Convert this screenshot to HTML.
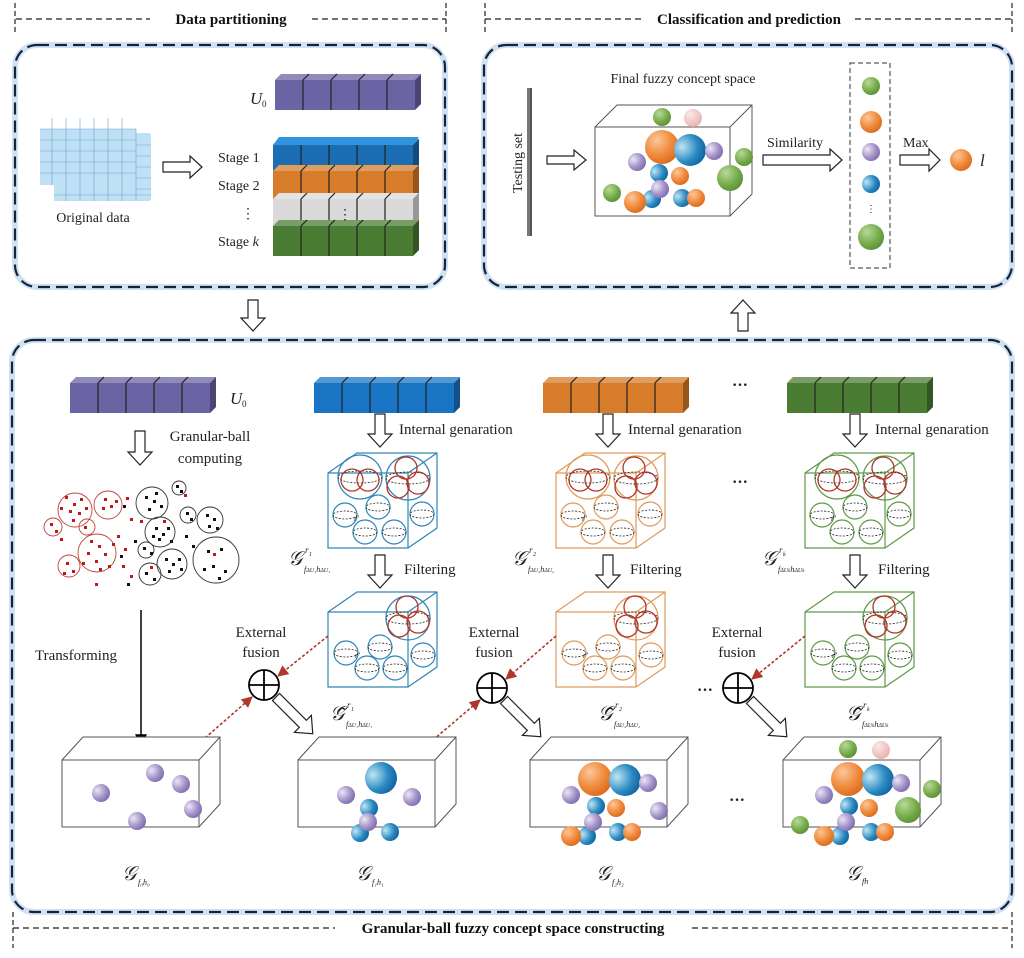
<!DOCTYPE html>
<html><head><meta charset="utf-8"><style>
html,body{margin:0;padding:0;background:#fff;}
svg{display:block;font-family:"Liberation Serif",serif;}
</style></head><body>
<svg width="1024" height="958" viewBox="0 0 1024 958" xmlns="http://www.w3.org/2000/svg">
<defs>
<radialGradient id="gO" cx="35%" cy="30%" r="75%"><stop offset="0" stop-color="#fbc79a"/><stop offset="0.6" stop-color="#f0893a"/><stop offset="1" stop-color="#d86a20"/></radialGradient>
<radialGradient id="gB" cx="25%" cy="40%" r="80%"><stop offset="0" stop-color="#bfe6f5"/><stop offset="0.6" stop-color="#2b8ac2"/><stop offset="1" stop-color="#0d5e9c"/></radialGradient>
<radialGradient id="gP" cx="30%" cy="35%" r="75%"><stop offset="0" stop-color="#ece6f5"/><stop offset="0.6" stop-color="#a393c8"/><stop offset="1" stop-color="#7c6aab"/></radialGradient>
<radialGradient id="gG" cx="35%" cy="30%" r="75%"><stop offset="0" stop-color="#b8d99a"/><stop offset="0.6" stop-color="#78ad4c"/><stop offset="1" stop-color="#5a8f36"/></radialGradient>
<radialGradient id="gK" cx="35%" cy="30%" r="75%"><stop offset="0" stop-color="#fbe8e8"/><stop offset="1" stop-color="#e8b0ae"/></radialGradient>
<marker id="ar" viewBox="0 0 10 10" refX="9" refY="5" markerWidth="7" markerHeight="7" orient="auto"><path d="M0,0 L10,5 L0,10 z" fill="#b0382a"/></marker>
<marker id="ak" viewBox="0 0 10 10" refX="9" refY="5" markerWidth="8" markerHeight="8" orient="auto"><path d="M0,0 L10,5 L0,10 z" fill="#000"/></marker>

<g id="bar">
 <rect x="0" y="0" width="140" height="30" fill="currentColor"/>
 <polygon points="0,0 6,-6 146,-6 140,0" fill="currentColor"/>
 <polygon points="0,0 6,-6 146,-6 140,0" fill="#fff" opacity="0.25"/>
 <polygon points="140,0 146,-6 146,24 140,30" fill="currentColor"/>
 <polygon points="140,0 146,-6 146,24 140,30" fill="#000" opacity="0.3"/>
 <g stroke="#222" stroke-width="1.2" fill="none">
  <path d="M28,0V30M56,0V30M84,0V30M112,0V30M34,-6L28,0M62,-6L56,0M90,-6L84,0M118,-6L112,0"/>
 </g>
</g>

<g id="sm" fill="none">
 <circle r="12" stroke="currentColor" stroke-width="1.2"/>
 <ellipse rx="12" ry="4" stroke="#222" stroke-width="0.8" stroke-dasharray="2 1.5"/>
</g>
<g id="big">
 <circle r="22" stroke="currentColor" stroke-width="1.2" fill="none"/>
 <ellipse rx="22" ry="6" stroke="#222" stroke-width="0.8" stroke-dasharray="2 1.5" fill="none"/>
</g>

<g id="cubeA" fill="none">
 <polygon points="0,20 29,0 109,0 109,75 80,95 0,95" stroke="currentColor" stroke-width="1.2"/>
 <path d="M0,20H80V95M80,20L109,0" stroke="currentColor" stroke-width="1.2"/>
 <use href="#big" x="32" y="24"/>
 <use href="#big" x="80" y="25"/>
 <g stroke="#b03428" stroke-width="1.3">
  <circle cx="24" cy="27" r="11"/><circle cx="40" cy="27" r="11"/>
  <circle cx="78" cy="15" r="11"/><circle cx="70" cy="34" r="11"/><circle cx="90" cy="30" r="11"/>
 </g>
 <use href="#sm" x="17" y="62"/>
 <use href="#sm" x="50" y="54"/>
 <use href="#sm" x="94" y="61"/>
 <use href="#sm" x="37" y="79"/>
 <use href="#sm" x="66" y="79"/>
 <text x="26" y="68" font-size="8" font-style="italic" fill="#222">r'</text>
</g>
<g id="cubeB" fill="none">
 <polygon points="0,20 29,0 109,0 109,75 80,95 0,95" stroke="currentColor" stroke-width="1.2"/>
 <path d="M0,20H80V95M80,20L109,0" stroke="currentColor" stroke-width="1.2"/>
 <use href="#big" x="80" y="26"/>
 <g stroke="#b03428" stroke-width="1.3">
  <circle cx="79" cy="15" r="11"/><circle cx="71" cy="34" r="11"/><circle cx="90" cy="30" r="11"/>
 </g>
 <use href="#sm" x="18" y="61"/>
 <use href="#sm" x="52" y="55"/>
 <use href="#sm" x="95" y="63"/>
 <use href="#sm" x="39" y="76"/>
 <use href="#sm" x="67" y="76"/>
 <text x="27" y="66" font-size="8" font-style="italic" fill="#222">r'</text>
</g>

<g id="box">
 <polygon points="0,23 21,0 158,0 158,67 137,90 0,90" fill="#fff" stroke="#555" stroke-width="1"/>
 <path d="M0,23H137V90M137,23L158,0" fill="none" stroke="#555" stroke-width="1"/>
</g>

<g id="balls3">
 <circle cx="65" cy="19" r="17" fill="url(#gO)"/>
 <circle cx="95" cy="20" r="16" fill="url(#gB)"/>
 <circle cx="118" cy="23" r="9" fill="url(#gP)"/>
 <circle cx="41" cy="35" r="9" fill="url(#gP)"/>
 <circle cx="66" cy="46" r="9" fill="url(#gB)"/>
 <circle cx="86" cy="48" r="9" fill="url(#gO)"/>
 <circle cx="129" cy="51" r="9" fill="url(#gP)"/>
 <circle cx="57" cy="76" r="9" fill="url(#gB)"/>
 <circle cx="63" cy="62" r="9" fill="url(#gP)"/>
 <circle cx="41" cy="76" r="10" fill="url(#gO)"/>
 <circle cx="88" cy="72" r="9" fill="url(#gB)"/>
 <circle cx="102" cy="72" r="9" fill="url(#gO)"/>
</g>
</defs>

<!-- header lines -->
<g stroke="#222" stroke-width="1.2" fill="none" stroke-dasharray="6 4">
 <path d="M16,19H150M312,19H446"/>
 <path d="M485,19H642M855,19H1012"/>
 <path d="M13,928H335M692,928H1012"/>
</g>
<g stroke="#222" stroke-width="1.2" stroke-dasharray="5 3">
 <path d="M15,3V32M446,3V32M485,3V32M1012,3V32M13,912V948M1012,912V948"/>
</g>
<g font-weight="bold" font-size="15" fill="#111" text-anchor="middle">
 <text x="231" y="24">Data partitioning</text>
 <text x="749" y="24">Classification and prediction</text>
 <text x="513" y="933">Granular-ball fuzzy concept space constructing</text>
</g>

<!-- outer boxes -->
<g fill="none">
 <g stroke="#c4dbf0" stroke-width="6" opacity="0.8">
  <rect x="15" y="45" width="430" height="242" rx="22"/>
  <rect x="484" y="45" width="528" height="242" rx="22"/>
  <rect x="12" y="340" width="1000" height="572" rx="22"/>
 </g>
 <g stroke="#15233c" stroke-width="2.2" stroke-dasharray="12 6">
  <rect x="15" y="45" width="430" height="242" rx="22"/>
  <rect x="484" y="45" width="528" height="242" rx="22"/>
  <rect x="12" y="340" width="1000" height="572" rx="22"/>
 </g>
</g>

<!-- data partition -->
<g>
 <rect x="54" y="133" width="96" height="68" fill="#bfe0f5"/>
 <rect x="136" y="134" width="15" height="66" fill="#bfe0f5"/>
 <rect x="40" y="118" width="96" height="67" fill="#bfe0f5"/>
 <rect x="40" y="118" width="96" height="11" fill="#fff"/>
 <g stroke="#6fa5c9" stroke-width="0.6" fill="none">
  <path d="M40,129H136M40,140H136M40,151H136M40,162H136M40,173H136M54,195H151M136,145H151M136,156H151M136,167H151M136,178H151M136,189H151"/>
  <path d="M52,118V185M66,118V185M80,118V185M94,118V185M108,118V185M122,118V185M66,185V201M80,185V201M94,185V201M108,185V201M122,185V201M136,129V201"/>
 </g>
 <text x="93" y="222" font-size="14" text-anchor="middle" fill="#222">Original data</text>
 <polygon points="163,162 190,162 190,156 202,167 190,178 190,172 163,172" fill="#fff" stroke="#222" stroke-width="1.2"/>
 <use href="#bar" x="275" y="80" color="#6a64a4"/>
 <text x="250" y="104" font-size="17" font-style="italic" fill="#222">U</text><text x="262" y="107" font-size="9" fill="#222">0</text>
 <use href="#bar" x="273" y="145" color="#1d6db2"/>
 <use href="#bar" x="273" y="171" color="#d67c2b"/>
 <use href="#bar" x="273" y="199" color="#dadada"/>
 <use href="#bar" x="273" y="226" color="#4b7c34"/>
 <polygon points="273,145 279,137 419,137 413,145" fill="#2f93dd"/>
 <text x="345" y="219" font-size="14" fill="#222" text-anchor="middle">⋮</text>
 <g font-size="14" fill="#222">
  <text x="218" y="162">Stage 1</text>
  <text x="218" y="190">Stage 2</text>
  <text x="241" y="218">⋮</text>
  <text x="218" y="246">Stage <tspan font-style="italic">k</tspan></text>
 </g>
</g>

<!-- classification -->
<g>
 <rect x="527" y="88" width="5" height="148" fill="#777"/>
 <rect x="530" y="88" width="2" height="148" fill="#555"/>
 <text transform="translate(522,163) rotate(-90)" font-size="14" text-anchor="middle" fill="#222">Testing set</text>
 <polygon points="547,156 574,156 574,150 586,160 574,170 574,164 547,164" fill="#fff" stroke="#222" stroke-width="1.2"/>
 <text x="683" y="83" font-size="14" text-anchor="middle" fill="#222">Final fuzzy concept space</text>
 <polygon points="595,127 617,105 752,105 752,194 730,216 595,216" fill="#fff" stroke="#555"/>
 <path d="M595,127H730V216M730,127L752,105" fill="none" stroke="#555"/>
 <circle cx="662" cy="117" r="9" fill="url(#gG)"/>
 <circle cx="693" cy="118" r="9" fill="url(#gK)"/>
 <circle cx="662" cy="147" r="17" fill="url(#gO)"/>
 <circle cx="690" cy="150" r="16" fill="url(#gB)"/>
 <circle cx="714" cy="151" r="9" fill="url(#gP)"/>
 <circle cx="637" cy="162" r="9" fill="url(#gP)"/>
 <circle cx="744" cy="157" r="9" fill="url(#gG)"/>
 <circle cx="659" cy="173" r="9" fill="url(#gB)"/>
 <circle cx="680" cy="176" r="9" fill="url(#gO)"/>
 <circle cx="730" cy="178" r="13" fill="url(#gG)"/>
 <circle cx="652" cy="199" r="9" fill="url(#gB)"/>
 <circle cx="660" cy="189" r="9" fill="url(#gP)"/>
 <circle cx="612" cy="193" r="9" fill="url(#gG)"/>
 <circle cx="635" cy="202" r="11" fill="url(#gO)"/>
 <circle cx="682" cy="198" r="9" fill="url(#gB)"/>
 <circle cx="696" cy="198" r="9" fill="url(#gO)"/>
 <text x="767" y="147" font-size="14" fill="#222">Similarity</text>
 <polygon points="763,155 830,155 830,149 842,160 830,171 830,165 763,165" fill="#fff" stroke="#222" stroke-width="1.2"/>
 <rect x="850" y="63" width="40" height="205" fill="none" stroke="#333" stroke-dasharray="5 3"/>
 <circle cx="871" cy="86" r="9" fill="url(#gG)"/>
 <circle cx="871" cy="122" r="11" fill="url(#gO)"/>
 <circle cx="871" cy="152" r="9" fill="url(#gP)"/>
 <circle cx="871" cy="184" r="9" fill="url(#gB)"/>
 <text x="871" y="212" font-size="10" text-anchor="middle" fill="#222">⋮</text>
 <circle cx="871" cy="237" r="13" fill="url(#gG)"/>
 <text x="903" y="147" font-size="14" fill="#222">Max</text>
 <polygon points="900,155 929,155 929,149 940,160 929,171 929,165 900,165" fill="#fff" stroke="#222" stroke-width="1.2"/>
 <circle cx="961" cy="160" r="11" fill="url(#gO)"/>
 <text x="980" y="166" font-size="17" font-style="italic" fill="#222">l</text>
</g>

<!-- inter-section arrows -->
<polygon points="248,300 258,300 258,318 265,318 253,331 241,318 248,318" fill="#fff" stroke="#222" stroke-width="1.2"/>
<polygon points="738,331 748,331 748,313 755,313 743,300 731,313 738,313" fill="#fff" stroke="#222" stroke-width="1.2"/>

<!-- bottom section bars -->
<use href="#bar" x="70" y="383" color="#6a64a4"/>
<text x="230" y="404" font-size="17" font-style="italic" fill="#222">U</text><text x="242" y="407" font-size="9" fill="#222">0</text>
<use href="#bar" x="314" y="383" color="#1a74c4"/>
<use href="#bar" x="543" y="383" color="#d67c2b"/>
<use href="#bar" x="787" y="383" color="#4b7c34"/>
<text x="740" y="390" font-size="16" font-weight="bold" text-anchor="middle" fill="#222">···</text>

<!-- down arrows -->
<g fill="#fff" stroke="#222" stroke-width="1.2">
 <polygon points="135,431 145,431 145,452 152,452 140,465 128,452 135,452"/>
 <polygon points="375,414 385,414 385,434 392,434 380,447 368,434 375,434"/>
 <polygon points="603,414 613,414 613,434 620,434 608,447 596,434 603,434"/>
 <polygon points="850,414 860,414 860,434 867,434 855,447 843,434 850,434"/>
 <polygon points="375,555 385,555 385,575 392,575 380,588 368,575 375,575"/>
 <polygon points="603,555 613,555 613,575 620,575 608,588 596,575 603,575"/>
 <polygon points="850,555 860,555 860,575 867,575 855,588 843,575 850,575"/>
</g>
<g font-size="15" fill="#222">
 <text x="210" y="441" text-anchor="middle">Granular-ball</text>
 <text x="210" y="463" text-anchor="middle">computing</text>
 <text x="399" y="434">Internal genaration</text>
 <text x="628" y="434">Internal genaration</text>
 <text x="875" y="434">Internal genaration</text>
 <text x="404" y="574">Filtering</text>
 <text x="630" y="574">Filtering</text>
 <text x="878" y="574">Filtering</text>
 <text x="261" y="637" text-anchor="middle">External</text>
 <text x="261" y="657" text-anchor="middle">fusion</text>
 <text x="494" y="637" text-anchor="middle">External</text>
 <text x="494" y="657" text-anchor="middle">fusion</text>
 <text x="737" y="637" text-anchor="middle">External</text>
 <text x="737" y="657" text-anchor="middle">fusion</text>
 <text x="35" y="660">Transforming</text>
</g>
<text x="740" y="487" font-size="16" font-weight="bold" text-anchor="middle" fill="#222">···</text>
<text x="705" y="695" font-size="16" font-weight="bold" text-anchor="middle" fill="#222">···</text>
<text x="737" y="805" font-size="16" font-weight="bold" text-anchor="middle" fill="#222">···</text>

<!-- scatter -->
<g fill="none" stroke-width="0.9">
 <g stroke="#c0423a">
  <circle cx="75" cy="510" r="17"/><circle cx="108" cy="505" r="14"/><circle cx="53" cy="527" r="9"/>
  <circle cx="87" cy="527" r="8"/><circle cx="97" cy="553" r="19"/><circle cx="69" cy="566" r="11"/>
 </g>
 <g stroke="#333">
  <circle cx="152" cy="503" r="16"/><circle cx="179" cy="488" r="7"/><circle cx="188" cy="515" r="8"/>
  <circle cx="210" cy="520" r="13"/><circle cx="160" cy="532" r="15"/><circle cx="172" cy="564" r="15"/>
  <circle cx="146" cy="550" r="8"/><circle cx="150" cy="574" r="11"/><circle cx="216" cy="560" r="23"/>
 </g>
</g>
<g fill="#c01818">
 <rect x="65" y="496" width="3" height="3"/><rect x="73" y="503" width="3" height="3"/><rect x="80" y="498" width="3" height="3"/><rect x="69" y="510" width="3" height="3"/><rect x="78" y="512" width="3" height="3"/><rect x="60" y="507" width="3" height="3"/><rect x="85" y="507" width="3" height="3"/><rect x="72" y="519" width="3" height="3"/>
 <rect x="104" y="498" width="3" height="3"/><rect x="110" y="505" width="3" height="3"/><rect x="102" y="507" width="3" height="3"/><rect x="115" y="500" width="3" height="3"/>
 <rect x="50" y="523" width="3" height="3"/><rect x="55" y="530" width="3" height="3"/><rect x="84" y="526" width="3" height="3"/><rect x="60" y="538" width="3" height="3"/>
 <rect x="90" y="540" width="3" height="3"/><rect x="98" y="545" width="3" height="3"/><rect x="87" y="552" width="3" height="3"/><rect x="104" y="553" width="3" height="3"/><rect x="95" y="560" width="3" height="3"/><rect x="82" y="562" width="3" height="3"/><rect x="108" y="565" width="3" height="3"/><rect x="99" y="568" width="3" height="3"/><rect x="112" y="543" width="3" height="3"/>
 <rect x="66" y="562" width="3" height="3"/><rect x="72" y="570" width="3" height="3"/><rect x="63" y="572" width="3" height="3"/>
 <rect x="117" y="535" width="3" height="3"/><rect x="124" y="548" width="3" height="3"/><rect x="122" y="565" width="3" height="3"/><rect x="130" y="518" width="3" height="3"/><rect x="126" y="497" width="3" height="3"/><rect x="140" y="520" width="3" height="3"/><rect x="95" y="583" width="3" height="3"/><rect x="130" y="575" width="3" height="3"/><rect x="184" y="494" width="3" height="3"/><rect x="163" y="520" width="3" height="3"/><rect x="213" y="553" width="3" height="3"/><rect x="150" y="566" width="3" height="3"/>
</g>
<g fill="#111">
 <rect x="145" y="496" width="3" height="3"/><rect x="153" y="500" width="3" height="3"/><rect x="160" y="505" width="3" height="3"/><rect x="148" y="508" width="3" height="3"/><rect x="155" y="492" width="3" height="3"/>
 <rect x="176" y="485" width="3" height="3"/><rect x="180" y="490" width="3" height="3"/><rect x="186" y="512" width="3" height="3"/><rect x="190" y="518" width="3" height="3"/>
 <rect x="206" y="514" width="3" height="3"/><rect x="213" y="518" width="3" height="3"/><rect x="208" y="525" width="3" height="3"/><rect x="216" y="527" width="3" height="3"/>
 <rect x="155" y="527" width="3" height="3"/><rect x="162" y="533" width="3" height="3"/><rect x="167" y="527" width="3" height="3"/><rect x="158" y="538" width="3" height="3"/><rect x="170" y="540" width="3" height="3"/><rect x="152" y="535" width="3" height="3"/>
 <rect x="143" y="547" width="3" height="3"/><rect x="150" y="552" width="3" height="3"/>
 <rect x="165" y="558" width="3" height="3"/><rect x="172" y="563" width="3" height="3"/><rect x="178" y="558" width="3" height="3"/><rect x="168" y="570" width="3" height="3"/><rect x="180" y="568" width="3" height="3"/>
 <rect x="145" y="572" width="3" height="3"/><rect x="153" y="578" width="3" height="3"/>
 <rect x="207" y="550" width="3" height="3"/><rect x="220" y="548" width="3" height="3"/><rect x="212" y="565" width="3" height="3"/><rect x="224" y="570" width="3" height="3"/><rect x="203" y="568" width="3" height="3"/><rect x="218" y="577" width="3" height="3"/>
 <rect x="123" y="505" width="3" height="3"/><rect x="134" y="540" width="3" height="3"/><rect x="127" y="583" width="3" height="3"/><rect x="120" y="555" width="3" height="3"/><rect x="192" y="545" width="3" height="3"/><rect x="185" y="535" width="3" height="3"/>
</g>

<!-- transforming arrow -->
<line x1="141" y1="610" x2="141" y2="745" stroke="#000" stroke-width="1.5" marker-end="url(#ak)"/>

<!-- internal cubes -->
<use href="#cubeA" x="328" y="453" color="#2f86b8"/>
<use href="#cubeA" x="556" y="453" color="#e09a5a"/>
<use href="#cubeA" x="805" y="453" color="#5f9a48"/>
<use href="#cubeB" x="328" y="592" color="#2f86b8"/>
<use href="#cubeB" x="556" y="592" color="#e09a5a"/>
<use href="#cubeB" x="805" y="592" color="#5f9a48"/>

<!-- G labels -->
<g fill="#222" font-style="italic">
 <text x="288" y="565" font-size="20">𝒢</text><text x="305" y="553" font-size="9">r</text><text x="309" y="556" font-size="6">1</text><text x="304" y="572" font-size="8">f<tspan font-size="6">ΔU₁</tspan>h<tspan font-size="6">ΔU₁</tspan></text>
 <text x="512" y="565" font-size="20">𝒢</text><text x="529" y="553" font-size="9">r</text><text x="533" y="556" font-size="6">2</text><text x="528" y="572" font-size="8">f<tspan font-size="6">ΔU₂</tspan>h<tspan font-size="6">ΔU₂</tspan></text>
 <text x="762" y="565" font-size="20">𝒢</text><text x="779" y="553" font-size="9">r</text><text x="783" y="556" font-size="6">k</text><text x="778" y="572" font-size="8">f<tspan font-size="6">ΔU<tspan font-size="5">k</tspan></tspan>h<tspan font-size="6">ΔU<tspan font-size="5">k</tspan></tspan></text>

 <text x="330" y="720" font-size="20">𝒢̃</text><text x="347" y="708" font-size="9">r</text><text x="351" y="711" font-size="6">1</text><text x="346" y="727" font-size="8">f<tspan font-size="6">ΔU₁</tspan>h<tspan font-size="6">ΔU₁</tspan></text>
 <text x="598" y="720" font-size="20">𝒢̃</text><text x="615" y="708" font-size="9">r</text><text x="619" y="711" font-size="6">2</text><text x="614" y="727" font-size="8">f<tspan font-size="6">ΔU₂</tspan>h<tspan font-size="6">ΔU₂</tspan></text>
 <text x="846" y="720" font-size="20">𝒢̃</text><text x="863" y="708" font-size="9">r</text><text x="867" y="711" font-size="6">k</text><text x="862" y="727" font-size="8">f<tspan font-size="6">ΔU<tspan font-size="5">k</tspan></tspan>h<tspan font-size="6">ΔU<tspan font-size="5">k</tspan></tspan></text>

 <text x="122" y="880" font-size="20">𝒢</text><text x="138" y="885" font-size="8">f₀h₀</text>
 <text x="356" y="880" font-size="20">𝒢</text><text x="372" y="885" font-size="8">f₁h₁</text>
 <text x="596" y="880" font-size="20">𝒢</text><text x="612" y="885" font-size="8">f₂h₂</text>
 <text x="846" y="880" font-size="20">𝒢</text><text x="862" y="884" font-size="8">fh</text>
</g>

<!-- oplus and fusion arrows -->
<g fill="#fff" stroke="#000" stroke-width="1.8">
 <circle cx="264" cy="685" r="15"/><path d="M249,685H279M264,670V700"/>
 <circle cx="492" cy="688" r="15"/><path d="M477,688H507M492,673V703"/>
 <circle cx="738" cy="688" r="15"/><path d="M723,688H753M738,673V703"/>
</g>
<g stroke="#b0382a" stroke-width="1.6" stroke-dasharray="3 2" fill="none">
 <line x1="328" y1="636" x2="278" y2="676" marker-end="url(#ar)"/>
 <line x1="205" y1="738" x2="252" y2="697" marker-end="url(#ar)"/>
 <line x1="556" y1="636" x2="506" y2="679" marker-end="url(#ar)"/>
 <line x1="433" y1="740" x2="480" y2="700" marker-end="url(#ar)"/>
 <line x1="805" y1="636" x2="752" y2="679" marker-end="url(#ar)"/>
</g>
<g fill="#fff" stroke="#222" stroke-width="1.2">
 <polygon transform="translate(276,697) rotate(45)" points="0,-5 38,-5 38,-12 52,0 38,12 38,5 0,5"/>
 <polygon transform="translate(504,700) rotate(45)" points="0,-5 38,-5 38,-12 52,0 38,12 38,5 0,5"/>
 <polygon transform="translate(750,700) rotate(45)" points="0,-5 38,-5 38,-12 52,0 38,12 38,5 0,5"/>
</g>

<!-- bottom boxes -->
<use href="#box" x="62" y="737"/>
<circle cx="101" cy="793" r="9" fill="url(#gP)"/>
<circle cx="155" cy="773" r="9" fill="url(#gP)"/>
<circle cx="181" cy="784" r="9" fill="url(#gP)"/>
<circle cx="193" cy="809" r="9" fill="url(#gP)"/>
<circle cx="137" cy="821" r="9" fill="url(#gP)"/>

<use href="#box" x="298" y="737"/>
<circle cx="381" cy="778" r="16" fill="url(#gB)"/>
<circle cx="346" cy="795" r="9" fill="url(#gP)"/>
<circle cx="412" cy="797" r="9" fill="url(#gP)"/>
<circle cx="369" cy="808" r="9" fill="url(#gB)"/>
<circle cx="360" cy="833" r="9" fill="url(#gB)"/>
<circle cx="368" cy="822" r="9" fill="url(#gP)"/>
<circle cx="390" cy="832" r="9" fill="url(#gB)"/>

<use href="#box" x="530" y="737"/>
<use href="#balls3" x="530" y="760"/>

<use href="#box" x="783" y="737"/>
<circle cx="848" cy="749" r="9" fill="url(#gG)"/>
<circle cx="881" cy="750" r="9" fill="url(#gK)"/>
<use href="#balls3" x="783" y="760"/>
<circle cx="932" cy="789" r="9" fill="url(#gG)"/>
<circle cx="908" cy="810" r="13" fill="url(#gG)"/>
<circle cx="800" cy="825" r="9" fill="url(#gG)"/>
</svg>
</body></html>
